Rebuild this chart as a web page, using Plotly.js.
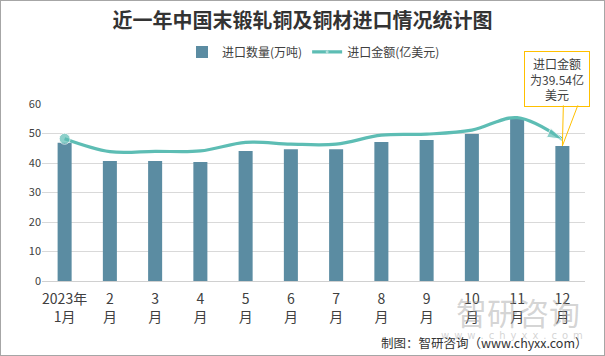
<!DOCTYPE html>
<html>
<head>
<meta charset="utf-8">
<script src="https://cdn.plot.ly/plotly-3.0.1.min.js"></script>
<style>
html,body{margin:0;padding:0;background:#fff;}
#chart{width:605px;height:356px;}
#frame{position:absolute;left:0;top:0;width:605px;height:356px;box-sizing:border-box;border:1px solid #a6a6a6;pointer-events:none;}
</style>
</head>
<body>
<div id="chart"></div>
<div id="frame"></div>
<script>
// ---- data ----
const categories = ['2023年<br>1月','2<br>月','3<br>月','4<br>月','5<br>月','6<br>月','7<br>月','8<br>月','9<br>月','10<br>月','11<br>月','12<br>月'];
const importVolume = [46.9, 40.7, 40.7, 40.3, 44.1, 44.7, 44.7, 47.1, 47.8, 49.8, 54.9, 45.8]; // 万吨
const importValue = [39.7, 36.1, 36.2, 36.3, 38.7, 38.2, 38.2, 40.7, 41.0, 42.1, 45.6, 39.54]; // 亿美元
const seriesNames = ['进口数量(万吨)', '进口金额(亿美元)'];
const calloutText = '进口金额<br>为39.54亿<br>美元';

const font = '"Noto Sans CJK SC", "Noto Sans", sans-serif';
const n = categories.length;
const lineColor = '#5DBDB4';
const startSizes = importValue.map((v, i) => i === 0 ? 11 : 0);

const traces = [
  {
    type: 'bar', x: categories, y: importVolume, name: seriesNames[0],
    marker: {color: '#5B8CA2'}, width: 0.31, hoverinfo: 'skip'
  },
  {
    type: 'scatter', mode: 'lines+markers', x: categories, y: importValue, name: seriesNames[1],
    yaxis: 'y2',
    line: {color: lineColor, width: 3.2, shape: 'spline', smoothing: 1},
    marker: {color: lineColor, symbol: 'circle', size: startSizes},
    hoverinfo: 'skip'
  },
  {
    // arrow head at the end of the line
    type: 'scatter', mode: 'markers', x: categories.slice(n - 2), y: importValue.slice(n - 2),
    yaxis: 'y2', showlegend: false, hoverinfo: 'skip',
    marker: {color: lineColor, symbol: 'arrow', size: [0, 16], angleref: 'previous'}
  }
];

const lastIdx = n - 1;
const layout = {
  width: 605, height: 356,
  margin: {l: 42, r: 20, t: 104, b: 75},
  paper_bgcolor: '#fff', plot_bgcolor: '#fff',
  font: {family: font, color: '#404040'},
  title: {
    text: '<b>近一年中国末锻轧铜及铜材进口情况统计图</b>',
    font: {family: font, size: 20, color: '#333'},
    x: 0.5, xanchor: 'center', y: 0.94, yanchor: 'middle'
  },
  showlegend: true,
  legend: {
    orientation: 'h', x: 0.5, xanchor: 'center', y: 1.294, yanchor: 'middle',
    font: {size: 12, color: '#404040'}, itemwidth: 30, traceorder: 'normal'
  },
  xaxis: {
    type: 'category', range: [-0.5, n - 0.5], tickfont: {size: 14, color: '#404040'}, automargin: false,
    ticklabelstandoff: 8,
    showgrid: false, showline: false, ticks: '', fixedrange: true
  },
  yaxis: {
    range: [0, 60], dtick: 10, tickfont: {size: 11, color: '#404040'}, automargin: false,
    gridcolor: '#d9d9d9', gridwidth: 1, zeroline: true, zerolinecolor: '#d0d0d0',
    showline: false, ticks: '', fixedrange: true
  },
  yaxis2: {
    range: [0, 49.4], overlaying: 'y', side: 'right', visible: false, showgrid: false, fixedrange: true
  },
  annotations: [
    {
      xref: 'paper', yref: 'paper', x: 1.0, y: 1.0, xanchor: 'right', yanchor: 'bottom',
      xshift: 5, yshift: -3,
      text: calloutText, showarrow: false, align: 'center',
      font: {size: 12, color: '#404040', family: font},
      bordercolor: '#FFC000', borderwidth: 1, bgcolor: '#fff', borderpad: 3, width: 58
    },
    {
      x: categories[lastIdx], y: importVolume[lastIdx], xref: 'x', yref: 'y',
      text: '', showarrow: true, arrowhead: 0, arrowwidth: 1, arrowcolor: '#FFC000',
      ax: 1, ay: -42, standoff: 0
    },
    {
      x: categories[lastIdx], y: importVolume[lastIdx], xref: 'x', yref: 'y',
      text: '', showarrow: true, arrowhead: 0, arrowwidth: 1, arrowcolor: '#FFC000',
      ax: 16, ay: -42, standoff: 0
    },
    {
      xref: 'paper', yref: 'paper', x: 0.995, y: -0.175, xanchor: 'right', yanchor: 'middle',
      text: '智研咨询', showarrow: false,
      font: {size: 31, color: 'rgba(160,160,160,0.45)', family: font}
    },
    {
      xref: 'paper', yref: 'paper', x: 1.0, y: -0.31, xanchor: 'right', yanchor: 'middle',
      text: 'w\u2002w\u2002w\u2002.\u2002c\u2002h\u2002y\u2002x\u2002x\u2002.\u2002c\u2002o\u2002m', showarrow: false,
      font: {size: 10, color: 'rgba(170,170,170,0.5)', family: 'DejaVu Sans'}
    },
    {
      xref: 'paper', yref: 'paper', x: 1.01, y: -0.35, xanchor: 'right', yanchor: 'middle',
      text: '制图：智研咨询（www.chyxx.com）', showarrow: false,
      font: {size: 12.5, color: '#333', family: font}
    }
  ]
};

Plotly.newPlot('chart', traces, layout, {displayModeBar: false, staticPlot: true});
</script>
</body>
</html>
